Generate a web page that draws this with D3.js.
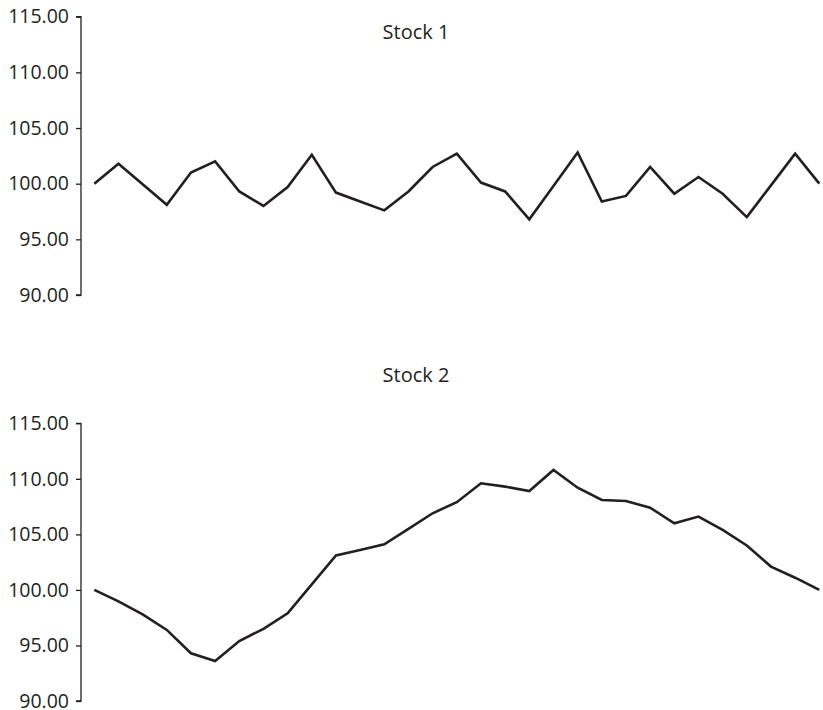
<!DOCTYPE html>
<html><head><meta charset="utf-8">
<script src="https://cdn.jsdelivr.net/npm/d3@7"></script>
<style>
html,body{margin:0;padding:0;background:#fff;}
svg{display:block;}
text{font-family:"Open Sans",sans-serif;fill:#231f20;}
</style></head>
<body><svg id="c" width="823" height="710"></svg>
<script>
const periods = d3.range(31);
const stock1 = [100.0,101.8,99.95,98.1,101.0,102.0,99.3,98.0,99.7,102.6,99.2,98.4,97.6,99.3,101.5,102.7,100.1,99.3,96.8,99.8,102.8,98.4,98.9,101.5,99.1,100.6,99.1,97.0,99.85,102.7,100.0];
const stock2 = [100.0,98.97,97.8,96.4,94.3,93.6,95.4,96.5,97.9,100.5,103.1,103.6,104.1,105.5,106.9,107.9,109.6,109.3,108.9,110.8,109.2,108.1,108.0,107.4,106.0,106.6,105.4,104.0,102.1,101.1,100.0];
const yTicks = [90,95,100,105,110,115];
const titles = ["Stock 1","Stock 2"];

const svg = d3.select("#c");
const ink = "#231f20";
const panels = [
  {title: titles[0], data: stock1, top: 16.7, bottom: 295, titleY: 39},
  {title: titles[1], data: stock2, top: 423.3, bottom: 701, titleY: 382}
];
const x = d3.scaleLinear().domain([0,30]).range([94.3,819.3]);

panels.forEach(p => {
  const y = d3.scaleLinear().domain([90,115]).range([p.bottom,p.top]);
  const g = svg.append("g");
  const ax = g.append("g").attr("transform","translate(81,0)")
    .call(d3.axisLeft(y).tickValues(yTicks).tickFormat(d3.format(".2f")).tickSize(5).tickPadding(7));
  ax.selectAll("path,line").attr("stroke",ink).attr("stroke-width",1.3);
  ax.select(".domain").attr("d",`M-5,${y(115)}H0V${y(90)}H-5`);
  ax.selectAll("text").attr("font-size",19.5).attr("font-family","'Open Sans',sans-serif").attr("fill",ink);
  g.append("path").datum(p.data)
    .attr("fill","none").attr("stroke",ink).attr("stroke-width",2.6).attr("stroke-linejoin","miter")
    .attr("d", d3.line().x((d,i)=>x(periods[i])).y(d=>y(d)));
  g.append("text").attr("x",416).attr("y",p.titleY).attr("text-anchor","middle")
    .attr("font-size",20).text(p.title);
});
</script></body></html>
